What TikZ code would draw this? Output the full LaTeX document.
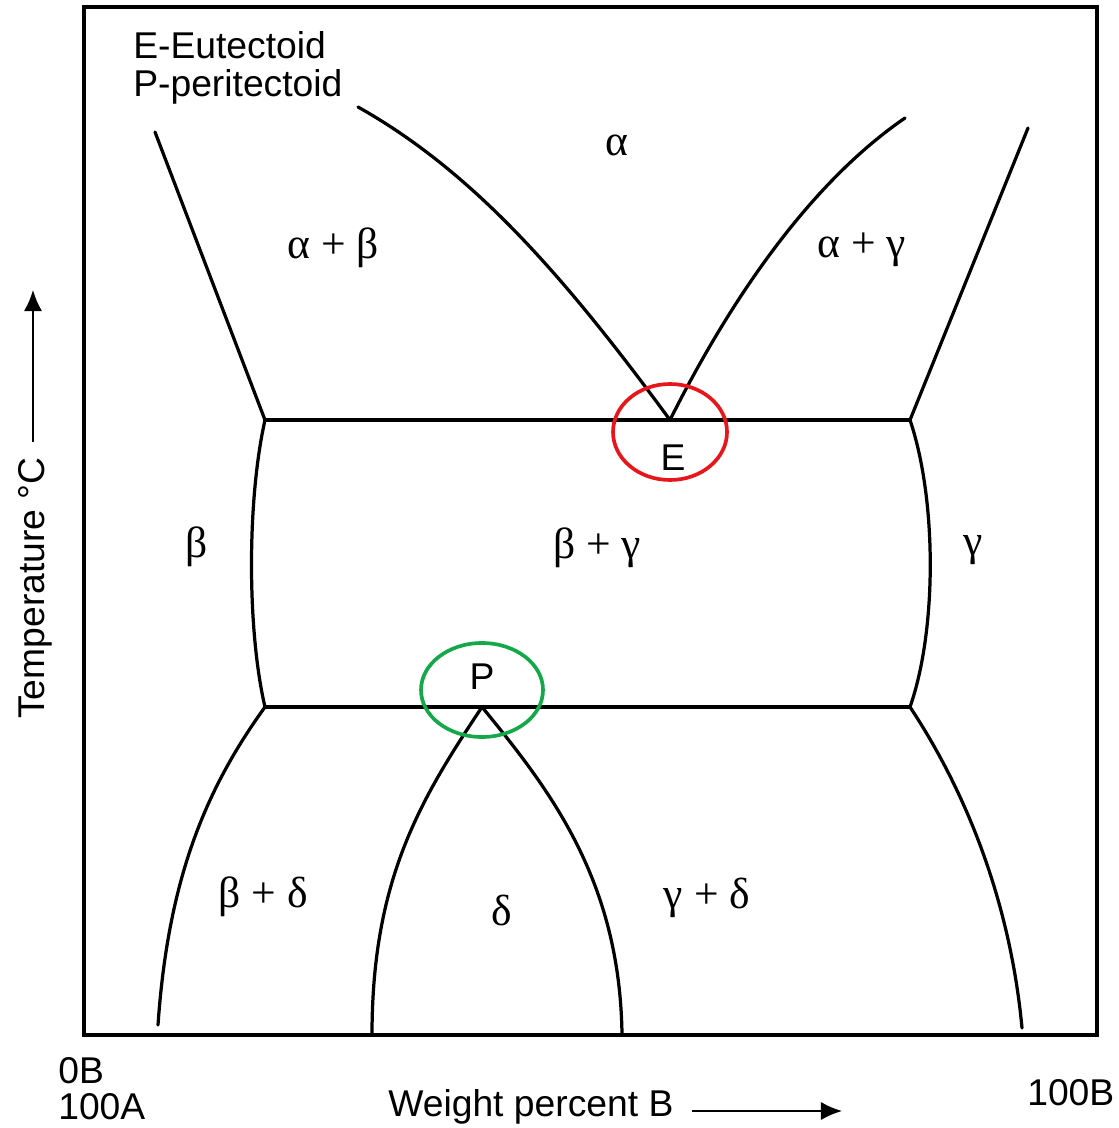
\documentclass[tikz,border=0pt]{standalone}
\usepackage{fontspec}
\setmainfont{Liberation Sans}
\newfontfamily\greekfont{Liberation Serif}
\usetikzlibrary{arrows.meta,positioning}
\definecolor{RingRed}{HTML}{E8161B}
\definecolor{RingGreen}{HTML}{14A84A}

\begin{document}
\begin{tikzpicture}[
    x=0.025cm, y=-0.025cm,
    every node/.style={font=\fontsize{26.5}{30}\selectfont, inner sep=0pt},
    phase/.style={font=\greekfont\fontsize{31}{34}\selectfont},
    bound/.style={line width=2.3pt, line cap=round},
    axarr/.style={-{Latex[length=15pt,width=13pt]}, line width=1.5pt}
  ]
    \useasboundingbox (0,0) rectangle (1118,1128);
    % frame
    \draw[line width=2.3pt] (84,7) rectangle (1097,1035);
    % invariant points
    \coordinate (E) at (670,420);
    \coordinate (P) at (482,707);
    \coordinate (lu) at (265,420);
    \coordinate (ru) at (910,420);
    \coordinate (ll) at (265,707);
    \coordinate (rl) at (910,707);
    % upper boundaries
    \draw[bound] (155,132) -- (lu);
    \draw[bound] (358,107) .. controls (470,170) and (560,270) .. (E);
    \draw[bound] (E) .. controls (720,320) and (800,190) .. (905,118);
    \draw[bound] (1028,128) -- (ru);
    \draw[bound] (lu) -- (E) -- (ru);
    % beta and gamma limits
    \draw[bound] (lu) .. controls (247,500) and (247,630) .. (ll);
    \draw[bound] (ru) .. controls (937,500) and (937,630) .. (rl);
    \draw[bound] (ll) -- (P) -- (rl);
    % lower boundaries
    \draw[bound] (ll) .. controls (205,790) and (168,880) .. (158,1025);
    \draw[bound] (P) .. controls (420,800) and (372,880) .. (372,1035);
    \draw[bound] (P) .. controls (550,790) and (620,880) .. (622,1035);
    \draw[bound] (rl) .. controls (965,790) and (1010,900) .. (1022,1028);
    % phase fields
    \node[phase] (alpha) at (617,145) {α};
    \node[phase] (ab) at (333,248) {α + β};
    \node[phase] (ag) at (862,250) {α + γ};
    \node[phase] (beta) at (197,547) {β};
    \node[phase] (bg) at (597,548) {β + γ};
    \node[phase] (gamma) at (973,550) {γ};
    \node[phase] (bd) at (263,897) {β + δ};
    \node[phase] (delta) at (502,910) {δ};
    \node[phase] (gd) at (707,898) {γ + δ};
    % points E and P
    \node (Elab) at (673,458) {E};
    \node (Plab) at (482,677) {P};
    \draw[RingRed, line width=2.6pt] (670,432) ellipse [x radius=57, y radius=48];
    \draw[RingGreen, line width=2.6pt] (482,690) ellipse [x radius=61, y radius=47];
    % legend
    \node[anchor=west] (leg1) at (133,45) {E-Eutectoid};
    \node[anchor=west] (leg2) at (133,87) {P-peritectoid};
    % axes
    \node[anchor=west] (zeroB) at (58,1071) {0B};
    \node[anchor=west] (hundA) at (58,1107) {100A};
    \node[anchor=west] (hundB) at (1027,1093) {100B};
    \node[anchor=west] (xlab) at (388,1107) {Weight percent B};
    \coordinate (xa) at (692,1111);
    \coordinate (xb) at (842,1111);
    \draw[axarr] (xa) -- (xb);
    \node[rotate=90] (ylab) at (35,588) {Temperature °C};
    \coordinate (ya) at (33,442);
    \coordinate (yb) at (33,290);
    \draw[axarr] (ya) -- (yb);
\end{tikzpicture}
\end{document}
